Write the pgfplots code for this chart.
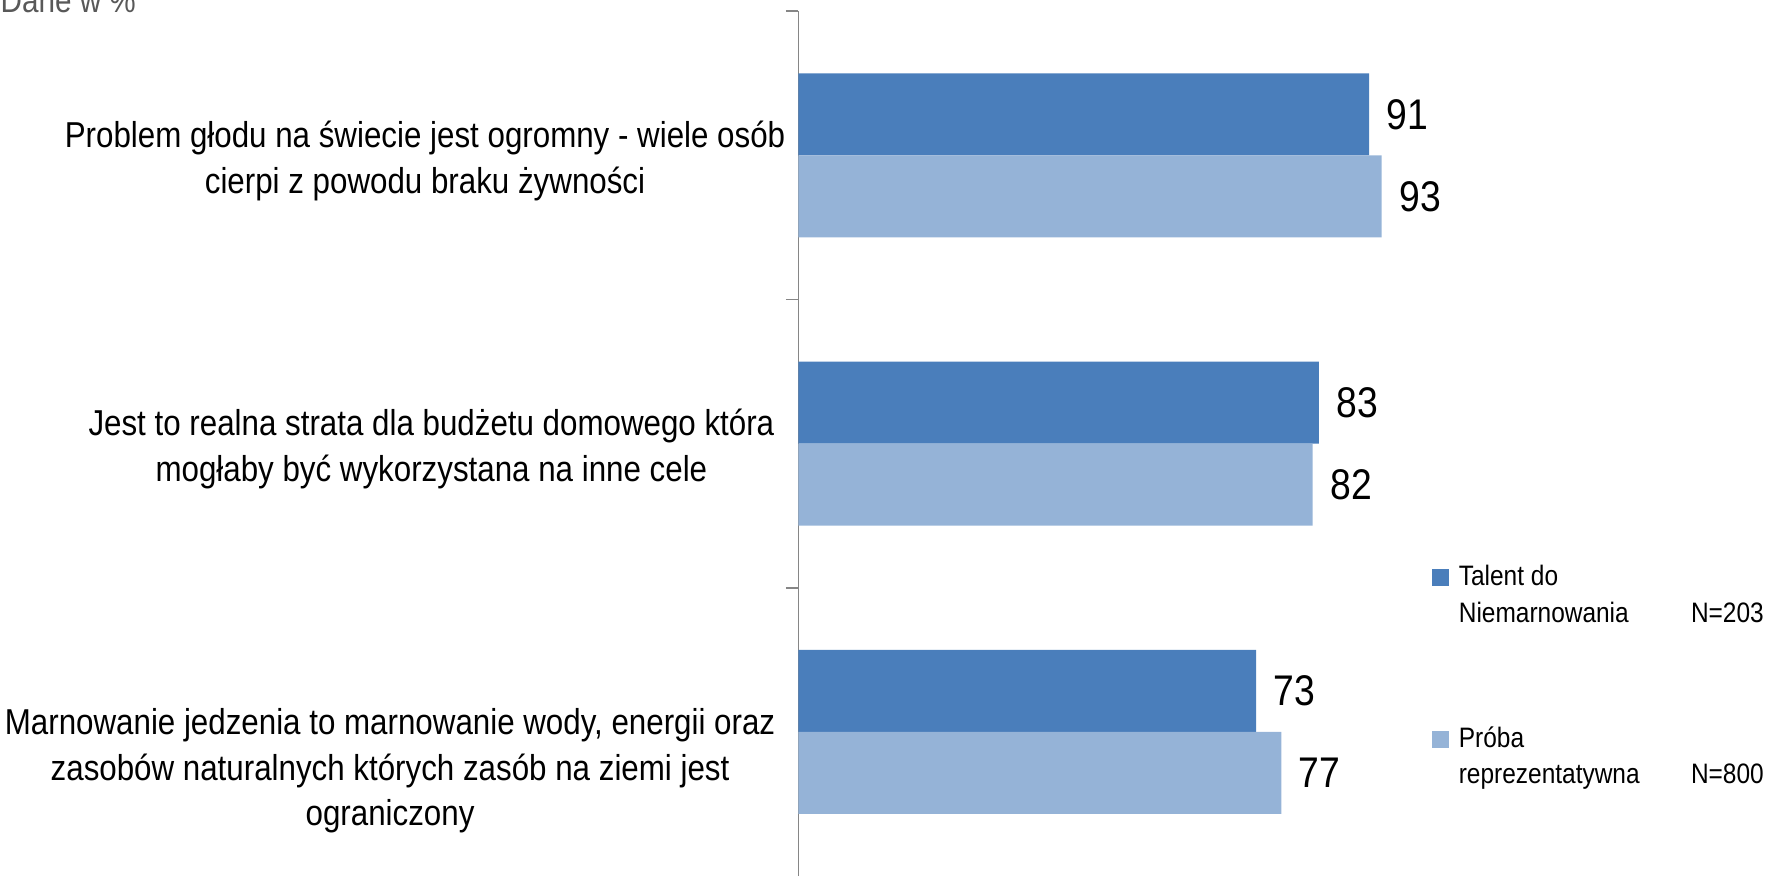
\documentclass[border=0pt]{standalone}
\usepackage{pgfplots}
\pgfplotsset{compat=1.18}
\usepackage{fontspec}
\setmainfont{Liberation Sans}[FakeStretch=0.87]
\definecolor{darkbar}{HTML}{4A7EBB}
\definecolor{lightbar}{HTML}{95B3D7}
\definecolor{axisgray}{HTML}{868686}
\begin{document}
\begin{tikzpicture}
\useasboundingbox (0,0) rectangle (17.66cm,8.79cm);
\node[anchor=base west, inner sep=0pt, text=black!65, font=\fontsize{9.7}{12}\selectfont] at (0cm,8.67cm) {Dane w \%};
\begin{axis}[
  at={(7.985cm,0.03cm)}, anchor=south west,
  scale only axis, width=6.27cm, height=8.647cm,
  xmin=0, xmax=100, ymin=-0.5, ymax=2.5,
  xbar, bar width=0.82cm,
  axis x line=none, axis y line=left,
  axis line style={-, draw=axisgray, line width=0.5pt},
  xtick=\empty,
  ytick={0,1,2},
  yticklabels={
    {\raisebox{-0.33cm}[\height][\depth]{\begin{tabular}{@{}c@{}}Marnowanie jedzenia to marnowanie wody, energii oraz\\zasobów naturalnych których zasób na ziemi jest\\ograniczony\end{tabular}}\rule{0.10cm}{0pt}},
    {\begin{tabular}{@{}c@{}}Jest to realna strata dla budżetu domowego która\\mogłaby być wykorzystana na inne cele\end{tabular}\rule{0.11cm}{0pt}},
    {\begin{tabular}{@{}c@{}}Problem głodu na świecie jest ogromny - wiele osób\\cierpi z powodu braku żywności\end{tabular}}
  },
  minor ytick={0.5,1.5,2.5},
  major tick length=0pt, minor tick length=0.125cm, tick align=outside,
  tick style={draw=axisgray, line width=0.5pt},
  yticklabel style={anchor=east, inner sep=0pt, xshift=-0.125cm, yshift=-0.06cm, font=\fontsize{10.24}{13}\selectfont},
  /pgf/number format/assume math mode=true,
  nodes near coords,
  nodes near coords style={font=\fontsize{12.2}{14}\selectfont, inner sep=0pt, anchor=west, xshift=0.17cm, text=black},
  legend image code/.code={\fill[#1] (0cm,-0.08cm) rectangle (0.17cm,0.09cm);},
  legend cell align=left,
  legend style={at={(1.009,0.36)}, anchor=north west, draw=none, fill=none, inner sep=0pt,
    row sep=1.355cm, column sep=0.10cm, font=\fontsize{8.0}{10.3}\selectfont,
    nodes={inner sep=0pt}},
]
\addplot[fill=darkbar, draw=none, bar shift=0.41cm] coordinates {(91,2) (83,1) (73,0)};
\addlegendentry{\parbox[t]{3.05cm}{\raggedright Talent do\\Niemarnowania\hfill N=203}}
\addplot[fill=lightbar, draw=none, bar shift=-0.41cm] coordinates {(93,2) (82,1) (77,0)};
\addlegendentry{\parbox[t]{3.05cm}{\raggedright Próba\\reprezentatywna\hfill N=800}}
\end{axis}
\end{tikzpicture}
\end{document}
